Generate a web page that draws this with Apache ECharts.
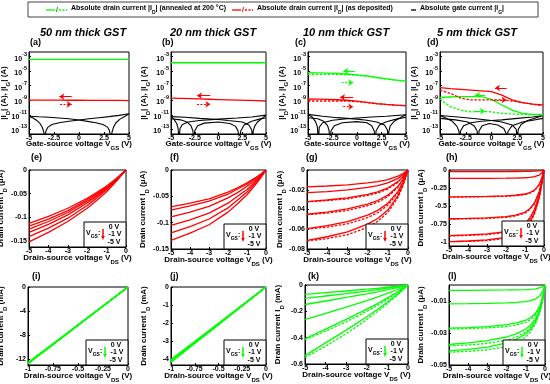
<!DOCTYPE html>
<html><head><meta charset="utf-8">
<script src="https://cdn.jsdelivr.net/npm/echarts@6/dist/echarts.min.js"></script>
<style>html,body{margin:0;padding:0;background:#fff}#c{width:550px;height:384px}</style>
</head><body><div id="c"></div><script>
// ================= DATA =================
// Row 1: transfer curves, values are log10(|I| / A)
const vgs = [-5,-4,-3,-2,-1,0,1,2,3,4,5];
const logTickLabels = [-13,-11,-9,-7,-5,-3];
const aGreen = [-3.36,-3.36,-3.36,-3.36,-3.36,-3.36,-3.36,-3.36,-3.36,-3.36,-3.36];
const aRed   = [-8.97,-8.98,-8.98,-8.99,-9.0,-9.0,-9.01,-9.02,-9.02,-9.03,-9.04];
const bGreen = [-3.83,-3.83,-3.83,-3.83,-3.83,-3.83,-3.83,-3.83,-3.83,-3.83,-3.83];
const bRed   = [-8.7,-8.74,-8.78,-8.82,-8.86,-8.9,-8.94,-8.98,-9.02,-9.06,-9.1];
const cGreen = [-5.2,-5.22,-5.25,-5.3,-5.38,-5.5,-5.65,-5.85,-6.05,-6.22,-6.35];
const cGreenDash = [-5.42,-5.42,-5.43,-5.45,-5.48,-5.55,-5.68,-5.87,-6.06,-6.23,-6.36];
const cRed   = [-8.83,-8.85,-8.88,-8.93,-9.0,-9.12,-9.28,-9.45,-9.58,-9.68,-9.75];
const cRedDash = [-9.1,-9.1,-9.1,-9.1,-9.12,-9.2,-9.32,-9.47,-9.6,-9.69,-9.76];
const dRed   = [-7.27,-7.4,-7.5,-7.6,-7.7,-7.8,-8.3,-8.95,-9.33,-9.52,-9.65];
const dRedDash = [-7.6,-8.05,-8.7,-8.95,-8.95,-8.95,-8.95,-9.1,-9.33,-9.55,-9.75];
const dGreen = [-8.6,-8.55,-8.5,-8.5,-8.5,-8.87,-9.65,-10.35,-10.8,-10.95,-11.0];
const dGreenDash = [-8.83,-9.9,-10.35,-10.6,-10.55,-10.6,-10.8,-10.9,-10.95,-10.98,-11.0];
// gate currents [V_GS, log10|I_G|]
const aGate1 = [[-5,-11.2],[-4.6,-11.45],[-4.2,-11.8],[-3.9,-12.2],[-3.65,-12.8],[-3.5,-13.5],[-3.42,-14.5],[-3.3,-13.2],[-3.1,-12.7],[-2.7,-12.35],[-2,-12.1],[-1,-11.9],[0,-11.72],[1,-11.55],[2,-11.4],[3,-11.25],[4,-11.08],[5,-10.85]];
const aGate2 = [[5,-10.85],[4.6,-11.2],[4.1,-11.6],[3.7,-12.1],[3.45,-12.7],[3.3,-13.4],[3.2,-14.5],[3.05,-13.2],[2.85,-12.7],[2.4,-12.35],[1.7,-12.1],[1,-11.95],[0,-11.72],[-1,-11.55],[-2,-11.45],[-3,-11.35],[-4,-11.28],[-5,-11.2]];
const bGate1 = [[-5,-11.25],[-4.7,-11.6],[-4.4,-12.2],[-4.25,-12.9],[-4.15,-14.5],[-4.05,-12.9],[-3.8,-12.35],[-3.2,-12.0],[-2,-11.8],[0,-11.6],[2,-11.45],[3.5,-11.3],[5,-11.05]];
const bGate2 = [[5,-11.05],[4.6,-11.5],[4.1,-12.0],[3.8,-12.6],[3.65,-13.3],[3.6,-14.5],[3.5,-13.1],[3.2,-12.4],[2.5,-12.0],[1,-11.8],[0,-11.65],[-2,-11.5],[-3.5,-11.35],[-5,-11.25]];
const bGate3 = [[-5,-11.55],[-4,-11.7],[-3.3,-12.0],[-2.9,-12.5],[-2.7,-13.2],[-2.6,-14.5],[-2.5,-13.2],[-2.2,-12.5],[-1.5,-12.15],[0,-12.0],[1.2,-12.2],[1.8,-12.6],[2.05,-13.2],[2.2,-14.5],[2.35,-13.2],[2.7,-12.4],[3.5,-11.9],[4.3,-11.6],[5,-11.4]];
const cGate1 = [[-5,-10.95],[-4.6,-11.3],[-4.25,-11.9],[-4.05,-12.6],[-3.95,-14.5],[-3.85,-12.7],[-3.5,-12.1],[-2.5,-11.75],[-1,-11.55],[0,-11.45],[1.5,-11.3],[3,-11.2],[5,-11.0]];
const cGate2 = [[5,-11.0],[4.5,-11.35],[3.8,-11.9],[3.4,-12.5],[3.25,-13.3],[3.2,-14.5],[3.1,-13.1],[2.8,-12.4],[2,-12.0],[1,-11.75],[0,-11.6],[-2,-11.4],[-3.5,-11.2],[-5,-10.95]];
const cGate3 = [[-5,-11.4],[-4,-11.55],[-3.4,-11.9],[-3.0,-12.5],[-2.85,-13.2],[-2.75,-14.5],[-2.65,-13.2],[-2.3,-12.5],[-1.5,-12.1],[0,-11.95],[1,-12.1],[1.5,-12.5],[1.75,-13.2],[1.85,-14.5],[1.95,-13.2],[2.3,-12.4],[3,-11.95],[4,-11.6],[5,-11.35]];
const dGate1 = [[-5,-11.1],[-4.5,-11.4],[-3.8,-11.9],[-3.35,-12.6],[-3.15,-13.3],[-3.1,-14.5],[-3.0,-13.2],[-2.7,-12.5],[-2,-12.1],[-1,-11.9],[0,-11.8],[1,-11.7],[2.5,-11.5],[4,-11.3],[5,-11.1]];
const dGate2 = [[5,-11.1],[4.5,-11.35],[3.5,-11.8],[2.9,-12.3],[2.6,-13.0],[2.5,-14.5],[2.4,-13.0],[2.0,-12.4],[1,-12.0],[0,-11.8],[-1.5,-11.55],[-3,-11.35],[-5,-11.1]];
const dGate3 = [[-5,-11.5],[-3.5,-11.7],[-2.3,-12.0],[-1.7,-12.5],[-1.4,-13.2],[-1.3,-14.5],[-1.2,-13.2],[-0.9,-12.5],[-0.2,-12.2],[0.6,-12.4],[1.2,-12.9],[1.4,-13.5],[1.5,-14.5],[1.6,-13.3],[2,-12.5],[3,-12.0],[4,-11.75],[5,-11.5]];
// sweep-direction arrows [[x1,y1],[x2,y2]]
const aArrows = {solid:[[-0.73,-8.5],[-1.97,-8.5]], dash:[[-1.9,-9.56],[-0.73,-9.56]]};
const bArrows = {solid:[[-0.85,-8.37],[-2.27,-8.37]], dash:[[-2.27,-9.56],[-0.85,-9.56]]};
const cArrowsG = {solid:[[-0.2,-4.97],[-1.4,-4.97]], dash:[[-1.56,-6.58],[-0.38,-6.58]]};
const cArrowsR = {solid:[[-0.38,-8.6],[-1.73,-8.6]], dash:[[-1.4,-9.89],[-0.38,-9.89]]};
const dArrowsR = {solid:[[1.47,-7.3],[0.34,-7.3]], dash:[[0.17,-8.95],[1.47,-8.95]]};
const dArrowsG = {solid:[[-0.63,-8.27],[-1.6,-8.27]], dash:[[-1.6,-10.5],[-0.63,-10.5]]};

// Rows 2-3: output curves (V_GS = 0 ... -5 V)
const vdsR = [-5,-4,-3,-2,-1.5,-1,-0.5,-0.25,0];
const vdsH = [-5,-4,-3,-2,-1.5,-1,-0.75,-0.5,-0.25,-0.1,0];
const vdsI = [-1,-0.75,-0.5,-0.25,0];
const eTicks = [0,-0.05,-0.1,-0.15];
const eD = [
 [-0.113,-0.098,-0.081,-0.060,-0.047,-0.034,-0.018,-0.009,0],
 [-0.119,-0.104,-0.086,-0.063,-0.050,-0.036,-0.019,-0.0095,0],
 [-0.125,-0.109,-0.090,-0.066,-0.053,-0.0375,-0.020,-0.010,0],
 [-0.132,-0.115,-0.095,-0.070,-0.055,-0.040,-0.021,-0.0105,0],
 [-0.141,-0.123,-0.102,-0.075,-0.059,-0.042,-0.0225,-0.011,0],
 [-0.152,-0.132,-0.109,-0.081,-0.064,-0.046,-0.024,-0.012,0]];
const fTicks = [0,-0.05,-0.1,-0.15];
const fD = [
 [-0.070,-0.063,-0.055,-0.042,-0.034,-0.0245,-0.0133,-0.007,0],
 [-0.076,-0.068,-0.059,-0.046,-0.036,-0.027,-0.0144,-0.0076,0],
 [-0.089,-0.080,-0.069,-0.053,-0.043,-0.031,-0.017,-0.0089,0],
 [-0.105,-0.0945,-0.082,-0.063,-0.050,-0.037,-0.020,-0.0105,0],
 [-0.1195,-0.1075,-0.093,-0.072,-0.057,-0.042,-0.0227,-0.012,0],
 [-0.1335,-0.120,-0.104,-0.080,-0.064,-0.047,-0.0254,-0.0134,0]];
const gTicks = [0,-0.02,-0.04,-0.06,-0.08];
const gD = [
 [-0.017,-0.0162,-0.015,-0.0131,-0.0117,-0.0097,-0.0063,-0.0036,0],
 [-0.023,-0.0219,-0.0202,-0.0177,-0.0159,-0.0131,-0.0085,-0.0048,0],
 [-0.032,-0.0304,-0.0282,-0.0246,-0.0221,-0.0182,-0.0118,-0.0067,0],
 [-0.0448,-0.0426,-0.0394,-0.0345,-0.0309,-0.0255,-0.0166,-0.0094,0],
 [-0.0593,-0.0563,-0.0522,-0.0457,-0.0409,-0.0338,-0.0219,-0.0125,0],
 [-0.0712,-0.0676,-0.0627,-0.0548,-0.0491,-0.0406,-0.0263,-0.015,0]];
const gDash = [
 [-0.0322,-0.031,-0.0292,-0.0258,-0.0233,-0.0193,-0.0125,-0.0071,0],
 [-0.0452,-0.0436,-0.041,-0.0362,-0.0326,-0.027,-0.0176,-0.01,0],
 [-0.0598,-0.0578,-0.0545,-0.0482,-0.0433,-0.0358,-0.0233,-0.0132,0],
 [-0.0718,-0.0695,-0.0656,-0.058,-0.052,-0.043,-0.028,-0.016,0]];
const hTicks = [0,-0.25,-0.5,-0.75,-1];
const hD = [
 [-0.023,-0.023,-0.022,-0.022,-0.021,-0.02,-0.019,-0.017,-0.012,-0.006,0],
 [-0.118,-0.117,-0.116,-0.114,-0.112,-0.108,-0.103,-0.093,-0.07,-0.035,0],
 [-0.375,-0.372,-0.368,-0.36,-0.352,-0.335,-0.315,-0.28,-0.2,-0.1,0],
 [-0.68,-0.675,-0.668,-0.65,-0.63,-0.59,-0.54,-0.46,-0.3,-0.14,0],
 [-0.915,-0.905,-0.89,-0.86,-0.82,-0.75,-0.67,-0.55,-0.35,-0.16,0],
 [-1.0,-0.99,-0.975,-0.94,-0.9,-0.82,-0.73,-0.6,-0.38,-0.17,0]];
const hDash = [
 [-0.378,-0.376,-0.372,-0.366,-0.358,-0.342,-0.322,-0.287,-0.205,-0.102,0],
 [-0.685,-0.681,-0.675,-0.66,-0.64,-0.6,-0.55,-0.47,-0.31,-0.145,0],
 [-0.92,-0.913,-0.9,-0.872,-0.835,-0.765,-0.685,-0.565,-0.36,-0.165,0],
 [-1.0,-0.995,-0.985,-0.952,-0.915,-0.835,-0.745,-0.615,-0.39,-0.175,0]];
const iTicks = [0,-4,-8,-12];
const iD = [
 [-12.5,-9.38,-6.25,-3.13,0],[-12.55,-9.41,-6.28,-3.14,0],[-12.6,-9.45,-6.3,-3.15,0],
 [-12.62,-9.47,-6.31,-3.16,0],[-12.66,-9.5,-6.33,-3.17,0],[-12.7,-9.53,-6.35,-3.18,0]];
const jTicks = [0,-1,-2,-3,-4];
const jD = [
 [-4.0,-3.0,-2.0,-1.0,0],[-4.03,-3.02,-2.02,-1.01,0],[-4.06,-3.05,-2.03,-1.02,0],
 [-4.09,-3.07,-2.05,-1.02,0],[-4.12,-3.09,-2.06,-1.03,0],[-4.15,-3.11,-2.08,-1.04,0]];
const kTicks = [0,-0.2,-0.4,-0.6];
const kD = [
 [-0.071,-0.058,-0.0454,-0.032,-0.0249,-0.017,-0.0092,-0.0046,0],
 [-0.102,-0.0836,-0.0653,-0.0459,-0.0357,-0.0245,-0.0133,-0.0066,0],
 [-0.148,-0.1214,-0.0947,-0.0666,-0.0518,-0.0355,-0.0192,-0.0096,0],
 [-0.263,-0.2157,-0.1683,-0.1184,-0.0921,-0.0631,-0.0342,-0.0171,0],
 [-0.408,-0.3346,-0.2611,-0.1836,-0.1428,-0.0979,-0.053,-0.0265,0],
 [-0.536,-0.4395,-0.343,-0.2412,-0.1876,-0.1286,-0.0697,-0.0348,0]];
const kDash = [
 [-0.415,-0.35,-0.28,-0.2,-0.156,-0.107,-0.058,-0.029,0],
 [-0.55,-0.465,-0.37,-0.262,-0.204,-0.14,-0.076,-0.038,0]];
const lTicks = [-0.01,-0.03,-0.05];
const lD = [
 [-0.0033,-0.0033,-0.0032,-0.0031,-0.003,-0.0029,-0.0027,-0.0024,-0.0017,-0.0009,0],
 [-0.0118,-0.0117,-0.0115,-0.0112,-0.0109,-0.0104,-0.0098,-0.0088,-0.0065,-0.0033,0],
 [-0.027,-0.0266,-0.026,-0.0248,-0.0237,-0.022,-0.0203,-0.0178,-0.0125,-0.006,0],
 [-0.0372,-0.0362,-0.0348,-0.0325,-0.0305,-0.0275,-0.025,-0.0212,-0.0145,-0.007,0],
 [-0.0412,-0.0402,-0.0388,-0.0362,-0.034,-0.0305,-0.0275,-0.0232,-0.0158,-0.0076,0]];
const lDash = [
 [-0.0275,-0.0272,-0.0268,-0.026,-0.025,-0.0233,-0.0215,-0.0188,-0.013,-0.0062,0],
 [-0.038,-0.0375,-0.0365,-0.0345,-0.0325,-0.0293,-0.0265,-0.0225,-0.0152,-0.0073,0],
 [-0.042,-0.0415,-0.0405,-0.0385,-0.0362,-0.0325,-0.0292,-0.0245,-0.0165,-0.0079,0]];

// ================= LAYOUT / STYLE =================
const FF = '"Liberation Sans", Arial, sans-serif';
const GREEN = '#00ff00', RED = '#ff0000';
const L = {
 a:{left:29,top:52,width:100,height:82,yg:18}, b:{left:171,top:52,width:95,height:82,yg:20},
 c:{left:308,top:52,width:98,height:82,yg:19}, d:{left:440,top:52,width:103,height:82,yg:19},
 e:{left:29,top:170,width:97,height:77,yg:21}, f:{left:171,top:170,width:95,height:79,yg:21},
 g:{left:307,top:170,width:101,height:79,yg:20}, h:{left:449,top:170,width:95,height:76,yg:21},
 i:{left:28,top:287,width:100,height:78,yg:20}, j:{left:171,top:287,width:95,height:78,yg:20},
 k:{left:305,top:285,width:103,height:79,yg:20}, l:{left:449,top:285,width:96,height:80,yg:21}
};
const AX = {
 a:{x:[-5,5,2.5], y:[-13.65,-2.35], yt:logTickLabels, log:true},
 b:{x:[-5,5,2.5], y:[-13.65,-2.35], yt:logTickLabels, log:true},
 c:{x:[-5,5,2.5], y:[-13.65,-2.35], yt:logTickLabels, log:true},
 d:{x:[-5,5,2.5], y:[-13.65,-2.35], yt:logTickLabels, log:true},
 e:{x:[-5,0,1], y:[-0.163,0], yt:eTicks, unit:'μA'},
 f:{x:[-5,0,1], y:[-0.15,0], yt:fTicks, unit:'μA'},
 g:{x:[-5,0,1], y:[-0.08,0], yt:gTicks, unit:'μA'},
 h:{x:[-5,0,1], y:[-1.06,0], yt:hTicks, unit:'μA'},
 i:{x:[-1,0,0.25], y:[-12.9,0], yt:iTicks, unit:'mA'},
 j:{x:[-1,0,0.25], y:[-4.3,0], yt:jTicks, unit:'mA'},
 k:{x:[-5,0,1], y:[-0.6,0], yt:kTicks, unit:'mA'},
 l:{x:[-5,0,1], y:[-0.05,0], yt:lTicks, unit:'μA'}
};
const keys = ['a','b','c','d','e','f','g','h','i','j','k','l'];
const richName = {
  b:{fontSize:8, fontWeight:'bold', fontFamily:FF, color:'#000', lineHeight:11, verticalAlign:'top'},
  s:{fontSize:6, fontWeight:'bold', fontFamily:FF, color:'#000', verticalAlign:'bottom'}
};
const richLog = {
  b:{fontSize:7, fontWeight:'bold', fontFamily:FF, color:'#000', lineHeight:11, verticalAlign:'bottom'},
  p:{fontSize:5.5, fontWeight:'bold', fontFamily:FF, color:'#000', verticalAlign:'top'}
};

const option = {animation:false, backgroundColor:'#fff', grid:[], xAxis:[], yAxis:[], series:[], graphic:[]};

keys.forEach((k, idx) => {
  const p = L[k], s = AX[k];
  const row = idx < 4 ? 0 : (idx < 8 ? 1 : 2);
  option.grid.push({left:p.left, top:p.top, width:p.width, height:p.height, show:true,
    borderColor:'#000', borderWidth:1, backgroundColor:'rgba(0,0,0,0)', outerBoundsMode:'none'});
  option.xAxis.push({gridIndex:idx, type:'value', min:s.x[0], max:s.x[1], interval:s.x[2],
    name: row === 0 ? '{b|Gate-source voltage V}{s|GS}{b| (V)}' : '{b|Drain-source voltage V}{s|DS}{b| (V)}',
    nameLocation:'middle', nameGap: row === 0 ? 6 : 7, nameMoveOverlap:false, nameTextStyle:{rich:richName},
    axisLine:{show:true, onZero:false, lineStyle:{color:'#000', width:1}},
    axisTick:{show:true, inside:true, length:2, lineStyle:{color:'#000'}},
    axisLabel:{fontSize:7, fontWeight:'bold', color:'#000', fontFamily:FF, margin:1, hideOverlap:false},
    splitLine:{show:false}});
  const yAxis = {gridIndex:idx, type:'value', min:s.y[0], max:s.y[1],
    nameLocation:'middle', nameGap: p.yg, nameMoveOverlap:false, nameTextStyle:{rich:richName},
    axisLine:{show:true, onZero:false, lineStyle:{color:'#000', width:1}},
    axisTick:{show:true, inside:true, length:2, customValues:s.yt, lineStyle:{color:'#000'}},
    axisLabel:{customValues:s.yt, fontSize:7, fontWeight:'bold', color:'#000', fontFamily:FF, margin:2, hideOverlap:false},
    splitLine:{show:false}};
  if (s.log) {
    yAxis.name = '{b||I}{s|D}{b|| (A), |I}{s|G}{b|| (A)}';
    yAxis.axisLabel.formatter = v => '{b|10}{p|' + v + '}';
    yAxis.axisLabel.rich = richLog;
  } else {
    yAxis.name = '{b|Drain current I}{s|D}{b| (' + s.unit + ')}';
  }
  option.yAxis.push(yAxis);
});

function zip(xs, ys) { return xs.map((x, i) => [x, ys[i]]); }
function addLine(idx, data, color, opt) {
  opt = opt || {};
  option.series.push({type:'line', xAxisIndex:idx, yAxisIndex:idx, data:data, symbol:'none', showSymbol:false,
    silent:true, clip:true, z:opt.z || 2,
    lineStyle:{color:color, width:opt.width || 1.3, type: opt.dash ? [2.5, 1.5] : 'solid'},
    markLine: opt.markLine});
}
function arrows(color, arr) {
  return {silent:true, symbol:['none','arrow'], symbolSize:5, label:{show:false}, animation:false,
    lineStyle:{color:color, width:1, type:'solid'}, emphasis:{disabled:true},
    data:[[{coord:arr.solid[0], lineStyle:{type:'solid'}},{coord:arr.solid[1]}],
          [{coord:arr.dash[0], lineStyle:{type:[2,1.5]}},{coord:arr.dash[1]}]]};
}

// Row 1
[[0,[aGate1,aGate2]],[1,[bGate1,bGate2,bGate3]],[2,[cGate1,cGate2,cGate3]],[3,[dGate1,dGate2,dGate3]]]
  .forEach(([idx, arr]) => arr.forEach(g => addLine(idx, g, '#000', {width:1.1, z:1})));
addLine(0, zip(vgs, aGreen), GREEN);
addLine(0, zip(vgs, aRed), RED, {markLine: arrows(RED, aArrows)});
addLine(1, zip(vgs, bGreen), GREEN);
addLine(1, zip(vgs, bRed), RED, {markLine: arrows(RED, bArrows)});
addLine(2, zip(vgs, cGreenDash), GREEN, {dash:true});
addLine(2, zip(vgs, cGreen), GREEN, {markLine: arrows(GREEN, cArrowsG)});
addLine(2, zip(vgs, cRedDash), RED, {dash:true});
addLine(2, zip(vgs, cRed), RED, {markLine: arrows(RED, cArrowsR)});
addLine(3, zip(vgs, dGreenDash), GREEN, {dash:true});
addLine(3, zip(vgs, dGreen), GREEN, {markLine: arrows(GREEN, dArrowsG)});
addLine(3, zip(vgs, dRedDash), RED, {dash:true});
addLine(3, zip(vgs, dRed), RED, {markLine: arrows(RED, dArrowsR)});

// Rows 2-3
eD.forEach(y => addLine(4, zip(vdsR, y), RED));
fD.forEach(y => addLine(5, zip(vdsR, y), RED));
gDash.forEach(y => addLine(6, zip(vdsR, y), RED, {dash:true}));
gD.forEach(y => addLine(6, zip(vdsR, y), RED));
hDash.forEach(y => addLine(7, zip(vdsH, y), RED, {dash:true}));
hD.forEach(y => addLine(7, zip(vdsH, y), RED));
iD.forEach(y => addLine(8, zip(vdsI, y), GREEN));
jD.forEach(y => addLine(9, zip(vdsI, y), GREEN));
kDash.forEach(y => addLine(10, zip(vdsR, y), GREEN, {dash:true}));
kD.forEach(y => addLine(10, zip(vdsR, y), GREEN));
lDash.forEach(y => addLine(11, zip(vdsH, y), GREEN, {dash:true}));
lD.forEach(y => addLine(11, zip(vdsH, y), GREEN));

// ================= GRAPHICS (legend, titles, labels, insets) =================
const G = option.graphic;
function txt(x, y, text, font, align, extra) {
  G.push(Object.assign({type:'text', silent:true, z:100, style:Object.assign({x:x, y:y, text:text, font:font,
    fill:'#000', align:align || 'left', verticalAlign:'middle', textAlign:align || 'left', textVerticalAlign:'middle'}, extra || {})}));
}
function seg(x1, y1, x2, y2, color, w, dash) {
  G.push({type:'line', silent:true, z:100, shape:{x1:x1, y1:y1, x2:x2, y2:y2},
    style:{stroke:color, lineWidth:w || 1.3, lineDash: dash || null}});
}
const richSmall = {
  b:{fontSize:7, fontWeight:'bold', fontFamily:FF, color:'#000', lineHeight:10, verticalAlign:'top'},
  s:{fontSize:5, fontWeight:'bold', fontFamily:FF, color:'#000', verticalAlign:'bottom'}
};
// legend box
G.push({type:'rect', silent:true, z:99, shape:{x:28, y:2, width:510, height:15}, style:{fill:'#fff', stroke:'#444', lineWidth:1}});
seg(46, 10, 55, 10, GREEN, 1.3); txt(56, 10, '/', 'bold 7px ' + FF, 'left', {fill:'#008000'}); seg(59, 10, 67, 10, GREEN, 1.3, [2,1.5]);
txt(71, 10, '{b|Absolute drain current |I}{s|D}{b|| (annealed at 200 °C)}', 'bold 7px ' + FF, 'left', {rich:richSmall});
seg(232, 10, 241, 10, RED, 1.3); txt(242, 10, '/', 'bold 7px ' + FF, 'left', {fill:'#c00000'}); seg(245, 10, 253, 10, RED, 1.3, [2,1.5]);
txt(257, 10, '{b|Absolute drain current |I}{s|D}{b|| (as deposited)}', 'bold 7px ' + FF, 'left', {rich:richSmall});
seg(411, 10, 416, 10, '#000', 1.3);
txt(420, 10, '{b|Absolute gate current |I}{s|G}{b||}', 'bold 7px ' + FF, 'left', {rich:richSmall});
// column titles
[['50 nm thick GST',83],['20 nm thick GST',213],['10 nm thick GST',346],['5 nm thick GST',477]]
  .forEach(t => txt(t[1], 33, t[0], 'italic bold 11px ' + FF, 'center'));
// panel labels
const plabels = {a:[30,43],b:[162,43],c:[295,43],d:[427,43],e:[31,158],f:[170,158],g:[306,158],h:[446,158],i:[32,277],j:[170,277],k:[308,277],l:[448,277]};
keys.forEach(k => txt(plabels[k][0], plabels[k][1], '(' + k + ')', 'bold 9px ' + FF, 'left'));
// inset legends
keys.slice(4).forEach((k, n) => {
  const p = L[k];
  const col = n < 4 ? RED : GREEN;
  const bx = p.left + p.width - 42, by = p.top + p.height - 25;
  G.push({type:'rect', silent:true, z:99, shape:{x:bx, y:by, width:42, height:25}, style:{fill:'#fff', stroke:'#000', lineWidth:1}});
  txt(bx + 30, by + 5, '0 V', 'bold 7px ' + FF, 'center');
  txt(bx + 2, by + 12.5, '{b|V}{s|GS}{b|:}', 'bold 7px ' + FF, 'left', {rich:richSmall});
  seg(bx + 19, by + 7, bx + 19, by + 15, col, 1.5);
  G.push({type:'polygon', silent:true, z:100, shape:{points:[[bx+17.2,by+14],[bx+20.8,by+14],[bx+19,by+18]]}, style:{fill:col}});
  txt(bx + 31, by + 12.5, '-1 V', 'bold 7px ' + FF, 'center');
  txt(bx + 30, by + 20.5, '-5 V', 'bold 7px ' + FF, 'center');
});

const chart = echarts.init(document.getElementById('c'), null, {renderer:'canvas'});
chart.setOption(option);
</script></body></html>
